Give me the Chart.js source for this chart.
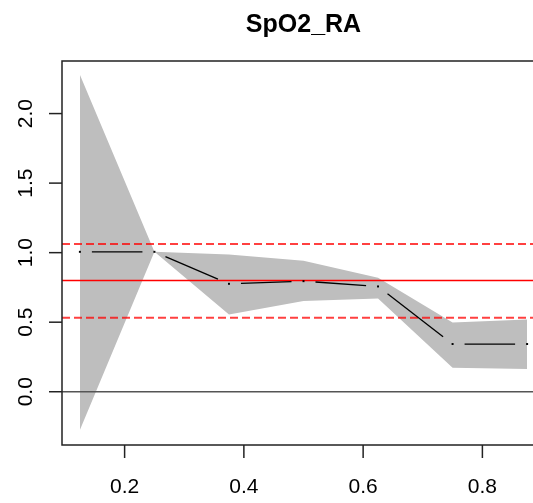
<!DOCTYPE html>
<html>
<head>
<meta charset="utf-8">
<script src="https://cdn.jsdelivr.net/npm/chart.js@4"></script>
<style>
  html, body { margin: 0; padding: 0; background: #fff; overflow: hidden; }
  canvas { display: block; }
</style>
</head>
<body>
<canvas id="chart" width="560" height="503"></canvas>
<script>
const title = "SpO2_RA";
const xs = [0.125, 0.25, 0.375, 0.5, 0.625, 0.75, 0.875];
const estimate = [1.006, 1.006, 0.776, 0.795, 0.757, 0.343, 0.343];
const upper = [2.28, 1.006, 0.986, 0.942, 0.82, 0.498, 0.52];
const lower = [-0.275, 1.006, 0.556, 0.652, 0.671, 0.172, 0.163];
const refMean = 0.80;
const refUpper = 1.062;
const refLower = 0.532;
const zeroLine = 0;
const xTicks = [0.2, 0.4, 0.6, 0.8];
const yTicks = [0, 0.5, 1, 1.5, 2];
const xLimits = [0.095, 0.905];
const yLimits = [-0.383, 2.378];

const pts = arr => xs.map((x, i) => ({ x: x, y: arr[i] }));
const GAP = 12;

// R style box, ticks, labels and ablines
const rPlot = {
  id: "rPlot",
  beforeDatasetsDraw(chart) {
    const { ctx, chartArea: a, scales: { y } } = chart;
    const hline = (v, color, width, dash) => {
      const py = y.getPixelForValue(v);
      ctx.save();
      ctx.strokeStyle = color;
      ctx.lineWidth = width;
      ctx.setLineDash(dash);
      ctx.beginPath();
      ctx.moveTo(a.left, py);
      ctx.lineTo(a.right, py);
      ctx.stroke();
      ctx.restore();
    };
    hline(zeroLine, "#555", 1.5, []);
    hline(refMean, "#ff0000", 1.6, []);
    hline(refUpper, "rgba(255,0,0,0.75)", 2, [8, 4]);
    hline(refLower, "rgba(255,0,0,0.75)", 2, [8, 4]);
  },
  afterDraw(chart) {
    const { ctx, chartArea: a, scales: { x, y } } = chart;
    ctx.save();
    ctx.strokeStyle = "#222";
    ctx.lineWidth = 1.5;
    ctx.strokeRect(a.left, a.top, a.right - a.left, a.bottom - a.top);
    ctx.fillStyle = "#000";
    ctx.font = "21px 'Liberation Sans', Arial, sans-serif";
    ctx.textAlign = "center";
    ctx.textBaseline = "alphabetic";
    xTicks.forEach(v => {
      const px = x.getPixelForValue(v);
      ctx.beginPath();
      ctx.moveTo(px, a.bottom);
      ctx.lineTo(px, a.bottom + 13);
      ctx.stroke();
      ctx.fillText(v.toFixed(1), px, 492.5);
    });
    yTicks.forEach(v => {
      const py = y.getPixelForValue(v);
      ctx.beginPath();
      ctx.moveTo(a.left - 13, py);
      ctx.lineTo(a.left, py);
      ctx.stroke();
      ctx.save();
      ctx.translate(32, py);
      ctx.rotate(-Math.PI / 2);
      ctx.fillText(v.toFixed(1), 0, 0);
      ctx.restore();
    });
    ctx.font = "bold 25px 'Liberation Sans', Arial, sans-serif";
    ctx.fillText(title, (a.left + a.right) / 2, 31.5);
    ctx.restore();
  }
};

new Chart(document.getElementById("chart"), {
  type: "line",
  data: {
    datasets: [
      {
        data: pts(estimate),
        borderColor: "#000",
        borderWidth: 1.3,
        pointStyle: "rect",
        pointRadius: 1.4,
        pointBackgroundColor: "#000",
        pointBorderWidth: 0,
        fill: false,
        segment: {
          borderDash: c => {
            const L = Math.hypot(c.p1.x - c.p0.x, c.p1.y - c.p0.y);
            return [0, GAP, Math.max(L - 2 * GAP, 0), L + 100];
          }
        }
      },
      {
        data: pts(upper),
        borderColor: "transparent",
        borderWidth: 0,
        pointRadius: 0,
        backgroundColor: "#bebebe",
        fill: "+1"
      },
      {
        data: pts(lower),
        borderColor: "transparent",
        borderWidth: 0,
        pointRadius: 0,
        fill: false
      }
    ]
  },
  options: {
    responsive: false,
    animation: false,
    events: [],
    devicePixelRatio: 1,
    layout: { padding: { left: 62, top: 61, right: 15, bottom: 58 } },
    scales: {
      x: { type: "linear", min: xLimits[0], max: xLimits[1], display: false },
      y: { type: "linear", min: yLimits[0], max: yLimits[1], display: false }
    },
    plugins: {
      legend: { display: false },
      title: { display: false },
      tooltip: { enabled: false },
      filler: { drawTime: "beforeDatasetsDraw" }
    }
  },
  plugins: [rPlot]
});
</script>
</body>
</html>
